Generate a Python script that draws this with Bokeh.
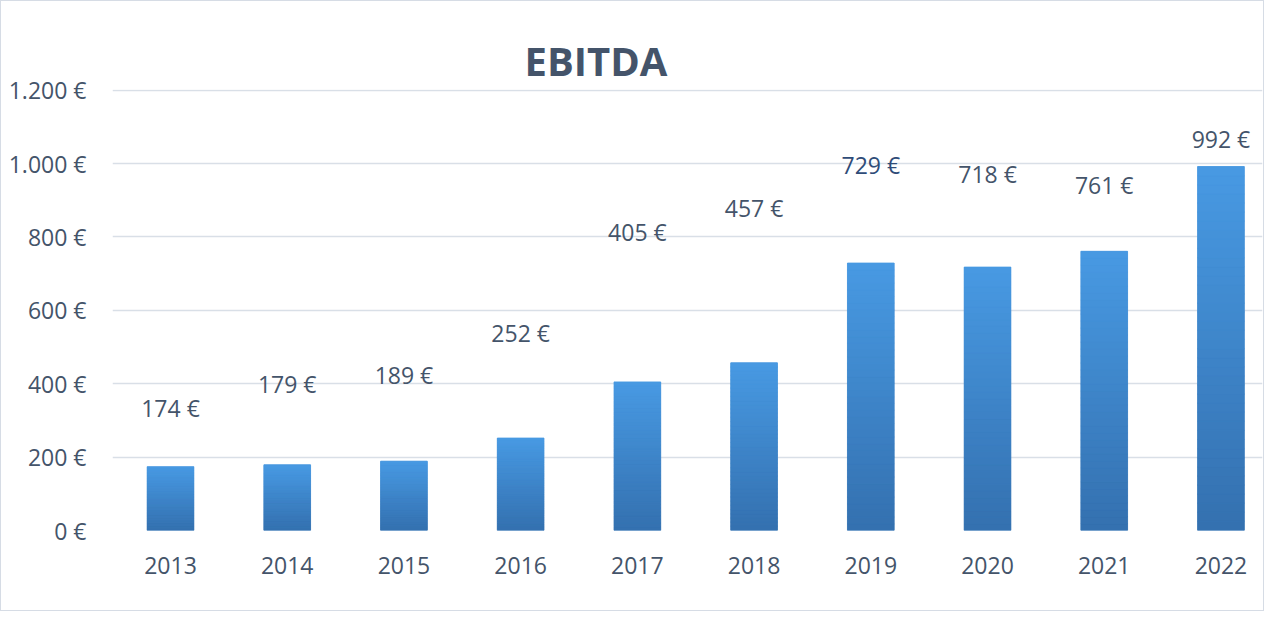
from bokeh.plotting import figure
from bokeh.models import Range1d, FixedTicker, ColumnDataSource
from bokeh.core.properties import value
from bokeh.embed import file_html
from bokeh.resources import INLINE

# ---- data ----
years = [2013, 2014, 2015, 2016, 2017, 2018, 2019, 2020, 2021, 2022]
ebitda = [174, 179, 189, 252, 405, 457, 729, 718, 761, 992]
label_text = ["174 €", "179 €", "189 €", "252 €", "405 €", "457 €", "729 €", "718 €", "761 €", "992 €"]
label_height = [334, 400, 424, 539, 814, 879, 996, 972, 942, 1066]
y_ticks = [0, 200, 400, 600, 800, 1000, 1200]
y_tick_labels = ["0 €", "200 €", "400 €", "600 €", "800 €", "1.000 €", "1.200 €"]
title_text = "EBITDA"

FONT = "Open Sans"
TEXT = "#44546a"

p = figure(width=1264, height=611, output_backend="svg", toolbar_location=None,
           x_range=Range1d(2012.503, 2022.356), y_range=Range1d(0, 1202),
           min_border_left=111, min_border_right=3, min_border_top=88, min_border_bottom=82,
           background_fill_color="white", border_fill_color="white")
p.outline_line_color = None
p.styles = {"border": "1.5px solid #d6dce5", "box-sizing": "border-box"}

p.title.text = title_text
p.title.align = "left"
p.title.offset = 412
p.title.standoff = 4
p.title.text_font = FONT
p.title.text_font_size = "40px"
p.title.text_font_style = "bold"
p.title.text_color = TEXT

# gradient bars: stacked thin segments, light at the top, darker at the bottom
top_c = (72, 154, 227)
bot_c = (52, 112, 175)
mid_c = "#%02x%02x%02x" % tuple((a + b) // 2 for a, b in zip(top_c, bot_c))
p.vbar(x=years, width=0.4, bottom=0, top=ebitda, fill_color=mid_c, line_color=None)
N = 40
xs, bots, tops, cols = [], [], [], []
for yr, v in zip(years, ebitda):
    for k in range(N):
        t = (k + 0.5) / N
        c = tuple(int(round(b + (a - b) * t)) for a, b in zip(top_c, bot_c))
        xs.append(yr)
        bots.append(v * k / N)
        tops.append(v * (k + 1) / N)
        cols.append("#%02x%02x%02x" % c)
src = ColumnDataSource(dict(x=xs, bottom=bots, top=tops, color=cols))
p.vbar(x="x", width=0.4, bottom="bottom", top="top", fill_color="color",
       line_color="color", line_width=0.8, source=src)

# data labels
label_colors = [TEXT] * len(years)
label_colors[6] = "#2f4c78"
lsrc = ColumnDataSource(dict(x=years, y=label_height, t=label_text, c=label_colors))
p.text(x="x", y="y", text="t", source=lsrc, text_font=value(FONT), text_font_size="23px",
       text_color="c", text_align="center", text_baseline="middle")

# axes
p.xaxis.ticker = FixedTicker(ticks=years)
p.xaxis.major_label_overrides = {y: str(y) for y in years}
p.yaxis.ticker = FixedTicker(ticks=y_ticks)
p.yaxis.major_label_overrides = dict(zip(y_ticks, y_tick_labels))
for ax in (p.xaxis, p.yaxis):
    ax.axis_line_color = None
    ax.major_tick_line_color = None
    ax.minor_tick_line_color = None
    ax.major_tick_out = 0
    ax.major_tick_in = 0
    ax.major_label_text_font = FONT
    ax.major_label_text_font_size = "23px"
    ax.major_label_text_color = TEXT
p.yaxis.major_label_standoff = 26
p.xaxis.major_label_standoff = 26

p.xgrid.grid_line_color = None
p.ygrid.grid_line_color = "#d9dfe7"
p.ygrid.grid_line_width = 1.6

open("out.html", "w").write(file_html(p, INLINE))
